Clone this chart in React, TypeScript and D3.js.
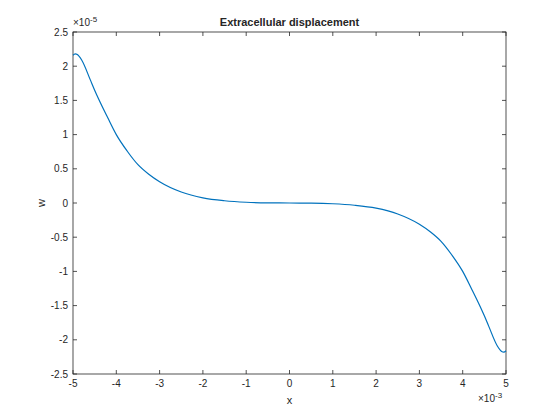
import React from 'react';
import * as d3 from 'd3';

const xs = [-5, -4.95, -4.9, -4.8, -4.6, -4.5, -4.4, -4.2, -4, -3.75, -3.5, -3.25, -3, -2.5, -2, -1.5, -1, -0.5, 0,
  0.5, 1, 1.5, 2, 2.5, 3, 3.25, 3.5, 3.75, 4, 4.2, 4.4, 4.5, 4.6, 4.8, 4.9, 4.95, 5];
const ws = [2.16, 2.18, 2.17, 2.09, 1.8, 1.65, 1.51, 1.25, 1.0, 0.76, 0.56, 0.42, 0.31, 0.16, 0.075, 0.033, 0.011, 0.002, 0,
  -0.002, -0.011, -0.033, -0.075, -0.16, -0.31, -0.42, -0.56, -0.76, -1.0, -1.25, -1.51, -1.65, -1.8, -2.09, -2.17, -2.18, -2.16];
const xTicks = [-5, -4, -3, -2, -1, 0, 1, 2, 3, 4, 5];
const yTicks = [-2.5, -2, -1.5, -1, -0.5, 0, 0.5, 1, 1.5, 2, 2.5];

export default function App() {
  const L = 73, R = 506, T = 32, B = 374;
  const x = d3.scaleLinear().domain([-5, 5]).range([L, R]);
  const y = d3.scaleLinear().domain([-2.5, 2.5]).range([B, T]);
  const line = d3.line<number>().x((_, i) => x(xs[i])).y(d => y(d)).curve(d3.curveMonotoneX);
  const font = { fontFamily: 'Liberation Sans, Arial, sans-serif', fontSize: 10, fill: '#262626' };
  return (
    <svg width={560} height={420} style={{ position: 'absolute', left: 0, top: 0, background: '#fff' }}>
      <rect x={L} y={T} width={R - L} height={B - T} fill="#fff" stroke="#262626" strokeWidth={0.8} />
      {xTicks.map(t => (
        <g key={'x' + t}>
          <line x1={x(t)} x2={x(t)} y1={B} y2={B - 4} stroke="#262626" strokeWidth={0.8} />
          <line x1={x(t)} x2={x(t)} y1={T} y2={T + 4} stroke="#262626" strokeWidth={0.8} />
          <text x={x(t)} y={B + 13} textAnchor="middle" {...font}>{t}</text>
        </g>
      ))}
      {yTicks.map(t => (
        <g key={'y' + t}>
          <line x1={L} x2={L + 4} y1={y(t)} y2={y(t)} stroke="#262626" strokeWidth={0.8} />
          <line x1={R} x2={R - 4} y1={y(t)} y2={y(t)} stroke="#262626" strokeWidth={0.8} />
          <text x={L - 5} y={y(t) + 3.5} textAnchor="end" {...font}>{t}</text>
        </g>
      ))}
      <path d={line(ws) || ''} fill="none" stroke="#0072BD" strokeWidth={1.2} />
      <text x={L} y={T - 6} {...font}>×10<tspan dy={-4} fontSize={8}>-5</tspan></text>
      <text x={R - 28} y={B + 28} {...font}>×10<tspan dy={-4} fontSize={8}>-3</tspan></text>
      <text x={(L + R) / 2} y={T - 6} textAnchor="middle" {...font} fontSize={11} fontWeight="bold">Extracellular displacement</text>
      <text x={(L + R) / 2} y={B + 30} textAnchor="middle" {...font} fontSize={11}>x</text>
      <text x={45} y={(T + B) / 2} textAnchor="middle" {...font} fontSize={11} transform={`rotate(-90 45 ${(T + B) / 2})`}>w</text>
    </svg>
  );
}
